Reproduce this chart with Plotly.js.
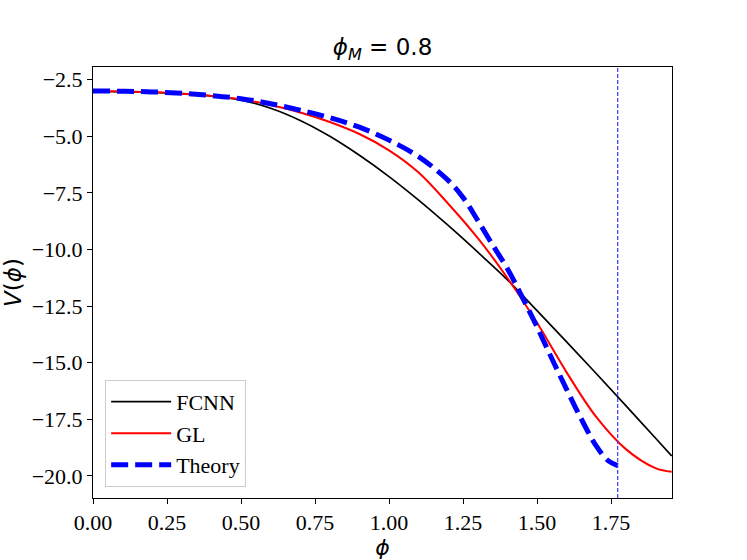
<!DOCTYPE html>
<html>
<head>
<meta charset="utf-8">
<script src="https://cdn.plot.ly/plotly-3.0.1.min.js"></script>
<style>
  html, body { margin: 0; padding: 0; background: #fff; }
  #chart { width: 747px; height: 560px; }
</style>
</head>
<body>
<div id="chart"></div>
<script>
// FCNN prediction
const fcnnX = [0, 0.1, 0.2, 0.3, 0.4, 0.5, 0.6, 0.7, 0.8, 0.9, 1.0, 1.1, 1.2, 1.3, 1.4, 1.5, 1.6, 1.7, 1.8, 1.9, 1.955];
const fcnnY = [-3.02, -3.03, -3.06, -3.12, -3.22, -3.40, -3.76, -4.30, -5.00, -5.84, -6.78, -7.82, -8.94, -10.12, -11.34, -12.70, -14.08, -15.48, -16.90, -18.33, -19.12];

// GL prediction
const glX = [0, 0.1, 0.2, 0.3, 0.4, 0.5, 0.6, 0.7, 0.8, 0.9, 1.0, 1.1, 1.2, 1.3, 1.4, 1.5, 1.6, 1.7, 1.8, 1.9, 1.955];
const glY = [-3.00, -3.02, -3.06, -3.12, -3.22, -3.37, -3.62, -3.95, -4.37, -4.90, -5.62, -6.60, -7.98, -9.50, -11.26, -13.24, -15.43, -17.40, -18.82, -19.66, -19.82];

// theoretical potential, defined up to phi_max
const theoryX = [0, 0.1, 0.2, 0.3, 0.4, 0.5, 0.6, 0.7, 0.8, 0.9, 1.0, 1.1, 1.2, 1.25, 1.3, 1.35, 1.4, 1.45, 1.5, 1.55, 1.6, 1.65, 1.7, 1.74, 1.7725];
const theoryY = [-3.00, -3.01, -3.04, -3.10, -3.20, -3.34, -3.56, -3.85, -4.18, -4.60, -5.17, -5.90, -6.95, -7.70, -8.72, -9.80, -10.85, -12.10, -13.42, -14.82, -16.18, -17.50, -18.68, -19.33, -19.55];

const phiMax = 1.7725;

const xTicks = [0, 0.25, 0.5, 0.75, 1.0, 1.25, 1.5, 1.75];
const yTicks = [-20, -17.5, -15, -12.5, -10, -7.5, -5, -2.5];

const serif = "'Liberation Serif', 'Times New Roman', serif";
const sans = "'DejaVu Sans', sans-serif";

const traces = [
    {
        x: fcnnX, y: fcnnY, name: 'FCNN', legendgroup: 'a',
        type: 'scatter', mode: 'lines',
        line: { color: '#000000', width: 1.7, shape: 'spline', smoothing: 1 }
    },
    {
        x: glX, y: glY, name: 'GL', legendgroup: 'b',
        type: 'scatter', mode: 'lines',
        line: { color: '#ff0000', width: 2, shape: 'spline', smoothing: 1 }
    },
    {
        x: theoryX, y: theoryY, name: 'Theory', legendgroup: 'c',
        type: 'scatter', mode: 'lines',
        line: { color: '#0000ff', width: 5, dash: '17px,7px', shape: 'spline', smoothing: 1 }
    }
];

const layout = {
    width: 747,
    height: 560,
    paper_bgcolor: '#ffffff',
    plot_bgcolor: '#ffffff',
    margin: { l: 93, r: 75, t: 67, b: 62 },
    showlegend: true,
    title: {
        text: '<i>ϕ</i><sub><i>M</i></sub> = 0.8',
        font: { family: sans, size: 23, color: '#000' },
        xref: 'paper', x: 0.5, xanchor: 'center',
        yref: 'container', y: 1 - 47 / 560, yanchor: 'middle'
    },
    xaxis: {
        range: [0, 1.956],
        tickvals: xTicks,
        tickformat: '.2f',
        ticks: 'outside', ticklen: 5, tickwidth: 1, tickcolor: '#000',
        showline: true, linecolor: '#000', linewidth: 1, mirror: true,
        showgrid: false, zeroline: false,
        tickfont: { family: serif, size: 22, color: '#000' },
        title: { text: '<i>ϕ</i>', font: { family: sans, size: 22, color: '#000' }, standoff: 6 }
    },
    yaxis: {
        range: [-20.98, -1.94],
        tickvals: yTicks,
        tickformat: '.1f',
        ticks: 'outside', ticklen: 5, tickwidth: 1, tickcolor: '#000',
        showline: true, linecolor: '#000', linewidth: 1, mirror: true,
        showgrid: false, zeroline: false,
        tickfont: { family: serif, size: 22, color: '#000' },
        title: { text: '<i>V</i>(<i>ϕ</i>)', font: { family: sans, size: 23, color: '#000' }, standoff: 10 }
    },
    legend: {
        x: 0.021, y: 0.026, xanchor: 'left', yanchor: 'bottom',
        bgcolor: 'rgba(255,255,255,0.8)',
        bordercolor: '#cccccc', borderwidth: 1,
        font: { family: serif, size: 22, color: '#000' },
        traceorder: 'grouped', tracegroupgap: 0,
        itemwidth: 60
    },
    shapes: [
        {
            type: 'line', xref: 'x', yref: 'paper',
            x0: phiMax, x1: phiMax, y0: 0, y1: 1,
            line: { color: '#3a3aff', width: 1.2, dash: '4px,2px' }
        }
    ]
};

Plotly.newPlot('chart', traces, layout, { displayModeBar: false, staticPlot: true });
</script>
</body>
</html>
